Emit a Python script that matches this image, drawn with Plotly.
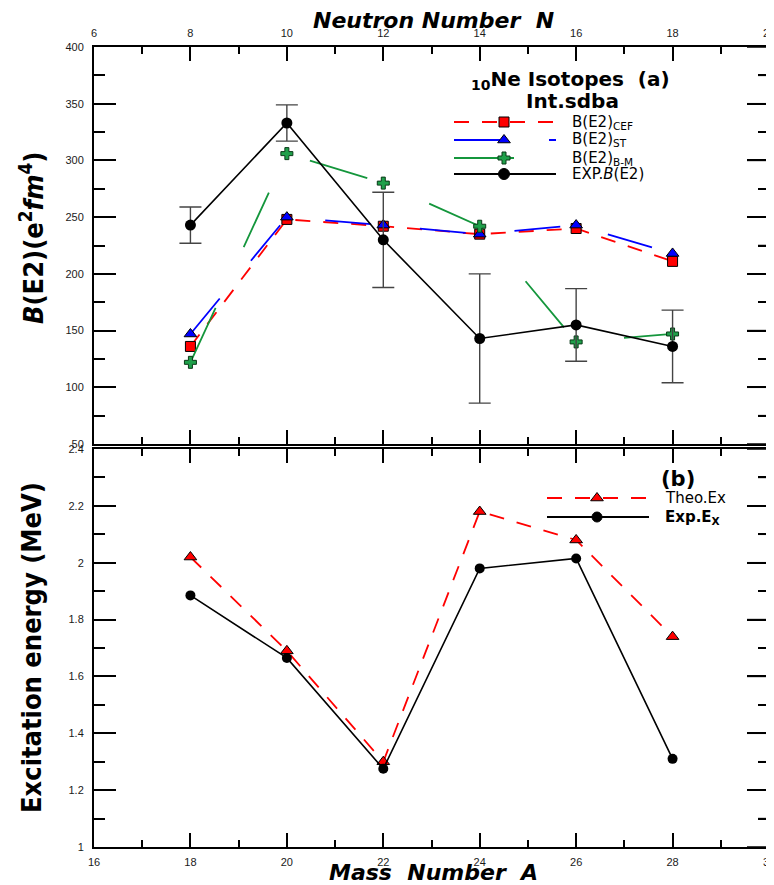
import plotly.graph_objects as go

# ---------------- data ----------------
mass_A = [18, 20, 22, 24, 26, 28]
neutron_N = [8, 10, 12, 14, 16, 18]

be2_cef = [136, 248, 242, 235, 240, 211]
be2_st = [147, 250, 243, 235, 243, 218]
be2_bm = [122, 306, 280, 242, 140, 147]
be2_exp = [243, 333, 230, 143, 155, 136]
be2_exp_err = [16, 16, 42, 57, 32, 32]

ex_theo = [2.02, 1.69, 1.30, 2.18, 2.08, 1.74]
ex_exp = [1.885, 1.665, 1.275, 1.98, 2.015, 1.31]

top_ticks_N = [6, 8, 10, 12, 14, 16, 18, 20]
bottom_ticks_A = [16, 18, 20, 22, 24, 26, 28, 30]
be2_tick_vals = [50, 75, 100, 125, 150, 175, 200, 225, 250, 275, 300, 325, 350, 375, 400]
ex_tick_vals = [1.0, 1.1, 1.2, 1.3, 1.4, 1.5, 1.6, 1.7, 1.8, 1.9, 2.0, 2.1, 2.2, 2.3, 2.4]

RED = "#ff0000"
BLUE = "#0000ff"
GREEN = "#14963c"
DASH_RED = "15px,13px"
DASH_BLUE = "46px,49px"
DASH_GREEN = "60px,67px"

# the page body adds an 8px offset; target plot area in page pixels is x 94..769, y 47..847
OFF = 8
W, H = 766, 877
L, R, T, B = 94 - OFF, 5, 47 - OFF, 38

PX0, PX1 = 94, 769     # plot area, page pixels
PY0, PY1 = 47, 847

def px2paper(x, y):
    return (x - PX0) / (PX1 - PX0), (PY1 - y) / (PY1 - PY0)

fig = go.Figure()

# ---------------- top panel (x2 / y) ----------------
fig.add_trace(go.Scatter(
    x=neutron_N, y=be2_cef, xaxis="x2", yaxis="y", mode="lines+markers",
    line=dict(color=RED, width=1.8, dash=DASH_RED),
    marker=dict(symbol="square", size=10, color=RED, line=dict(color="black", width=1)),
    showlegend=False))
fig.add_trace(go.Scatter(
    x=neutron_N, y=be2_st, xaxis="x2", yaxis="y", mode="lines+markers",
    line=dict(color=BLUE, width=1.8, dash=DASH_BLUE),
    marker=dict(symbol="triangle-up", size=11, color=BLUE, line=dict(color="black", width=1)),
    showlegend=False))
fig.add_trace(go.Scatter(
    x=neutron_N, y=be2_bm, xaxis="x2", yaxis="y", mode="lines+markers",
    line=dict(color=GREEN, width=1.8, dash=DASH_GREEN),
    marker=dict(symbol="cross", size=10, color="#1fa04a", line=dict(color="#0a3a18", width=1)),
    showlegend=False))
fig.add_trace(go.Scatter(
    x=neutron_N, y=be2_exp, xaxis="x2", yaxis="y", mode="lines+markers",
    line=dict(color="black", width=1.6),
    marker=dict(symbol="circle", size=11, color="black"),
    error_y=dict(type="data", array=be2_exp_err, color="#444", thickness=1.4, width=11),
    showlegend=False))

# ---------------- bottom panel (x / y2) ----------------
fig.add_trace(go.Scatter(
    x=mass_A, y=ex_theo, xaxis="x", yaxis="y2", mode="lines+markers",
    line=dict(color=RED, width=1.8, dash=DASH_RED),
    marker=dict(symbol="triangle-up", size=11, color=RED, line=dict(color="black", width=1)),
    showlegend=False))
fig.add_trace(go.Scatter(
    x=mass_A, y=ex_exp, xaxis="x", yaxis="y2", mode="lines+markers",
    line=dict(color="black", width=1.6),
    marker=dict(symbol="circle", size=10, color="black"),
    showlegend=False))

# ---------------- hand-made legends on a pixel overlay (x3 / y3) ----------------
def legend_sample(x0, x1, y, color, dash, symbol, mcolor, mline, size):
    fig.add_trace(go.Scatter(
        x=[x0, x1], y=[y, y], xaxis="x3", yaxis="y3", mode="lines",
        line=dict(color=color, width=1.8, dash=dash), showlegend=False, hoverinfo="skip"))
    fig.add_trace(go.Scatter(
        x=[(x0 + x1) / 2 - 1], y=[y], xaxis="x3", yaxis="y3", mode="markers",
        marker=dict(symbol=symbol, size=size, color=mcolor, line=dict(color=mline, width=1)),
        showlegend=False, hoverinfo="skip"))

legend_sample(454, 556, 122, RED, DASH_RED, "square", RED, "black", 10)
legend_sample(454, 556, 140, BLUE, DASH_BLUE, "triangle-up", BLUE, "black", 11)
legend_sample(454, 556, 158, GREEN, DASH_GREEN, "cross", "#1fa04a", "#0a3a18", 10)
legend_sample(454, 556, 174, "black", "solid", "circle", "black", "black", 11)
legend_sample(547, 649, 498, RED, DASH_RED, "triangle-up", RED, "black", 11)
legend_sample(547, 649, 517, "black", "solid", "circle", "black", "black", 10)

LEG_FONT = dict(family="DejaVu Sans", size=15, color="black")
ann = []
def text(x, y, s, font, xanchor="left", angle=0):
    px, py = px2paper(x, y)
    ann.append(dict(x=px, y=py, xref="paper", yref="paper", text=s, showarrow=False,
                    xanchor=xanchor, yanchor="middle", font=font, textangle=angle))

text(570, 122, "B(E2)<sub>CEF</sub>", LEG_FONT)
text(570, 140, "B(E2)<sub>ST</sub>", LEG_FONT)
text(570, 158, "B(E2)<sub>B-M</sub>", LEG_FONT)
text(570, 174, "EXP.<i>B</i>(E2)", LEG_FONT)
text(570, 80, "<b><sub>10</sub>Ne Isotopes\u00a0\u00a0(a)</b>",
     dict(family="DejaVu Sans", size=20, color="black"), xanchor="center")
text(572, 101, "<b>Int.sdba</b>", dict(family="DejaVu Sans", size=20, color="black"), xanchor="center")
text(663, 498, "Theo.Ex", LEG_FONT)
text(663, 517, "<b>Exp.E<sub>X</sub></b>", LEG_FONT)
text(678, 479, "<b>(b)</b>", dict(family="DejaVu Sans", size=21, color="black"), xanchor="center")

TITLE_FONT = dict(family="DejaVu Sans", size=22, color="black")
text(433, 20, "<b><i>Neutron Number\u00a0\u00a0N</i></b>", TITLE_FONT, xanchor="center")
text(433, 872, "<b><i>Mass\u00a0\u00a0Number\u00a0\u00a0A</i></b>", TITLE_FONT, xanchor="center")
YT_FONT = dict(family="DejaVu Sans Condensed, Liberation Sans", size=27, color="black")
text(31, 238, "<b><i>B</i>(E2)(e<sup>2</sup><i>fm</i><sup>4</sup>)</b>", YT_FONT, xanchor="center", angle=-90)
text(31, 648, "<b>Excitation energy (MeV)</b>", YT_FONT, xanchor="center", angle=-90)

# ---------------- right-hand frame ticks (drawn as shapes on the axes' own scales) ----------------
shapes = []
PLOT_W = PX1 - PX0
def right_ticks(vals, yref, major_every):
    for i, v in enumerate(vals):
        ln = 22 if i % major_every == 0 else 11
        shapes.append(dict(type="line", xref="paper", yref=yref, x0=1, x1=1 - ln / PLOT_W,
                           y0=v, y1=v, line=dict(color="black", width=1.5)))
    shapes.append(dict(type="line", xref="paper", yref=yref, x0=1, x1=1,
                       y0=vals[0], y1=vals[-1], line=dict(color="black", width=2)))
right_ticks(be2_tick_vals, "y", 2)
right_ticks(ex_tick_vals, "y2", 2)

TICK_FONT = dict(family="Liberation Sans", size=11, color="#1a1a1a")
common_x = dict(ticks="inside", ticklen=14, tickwidth=1.5, tickcolor="black",
                showline=True, linewidth=2, linecolor="black", mirror="ticks",
                showgrid=False, zeroline=False, tickfont=TICK_FONT, automargin=False,
                ticklabeloverflow="allow",
                minor=dict(ticks="inside", dtick=1, ticklen=7, tickwidth=1.5, tickcolor="black", showgrid=False))
common_y = dict(ticks="inside", ticklen=22, tickwidth=1.5, tickcolor="black",
                showline=True, linewidth=2, linecolor="black", mirror="ticks",
                showgrid=False, zeroline=False, tickfont=TICK_FONT, ticklabelstandoff=6,
                automargin=False, ticklabeloverflow="allow")

fig.update_layout(
    width=W, height=H,
    margin=dict(l=L, r=R, t=T, b=B),
    plot_bgcolor="rgba(0,0,0,0)", paper_bgcolor="white",
    xaxis=dict(anchor="y2", domain=[0, 1], range=[16, 30], tickvals=bottom_ticks_A,
               ticklabelstandoff=4, **common_x),
    xaxis2=dict(anchor="y", domain=[0, 1], range=[6, 20], side="top", tickvals=top_ticks_N,
                ticklabelstandoff=4, **common_x),
    yaxis=dict(anchor="x2", domain=[0.50375, 1], range=[50, 400], dtick=50, tick0=0,
               minor=dict(ticks="inside", dtick=25, ticklen=11, tickwidth=1.5, tickcolor="black", showgrid=False),
               **common_y),
    yaxis2=dict(anchor="x", domain=[0, 0.4975], range=[1, 2.4], dtick=0.2, tick0=1,
                minor=dict(ticks="inside", dtick=0.1, ticklen=11, tickwidth=1.5, tickcolor="black", showgrid=False),
                **common_y),
    xaxis3=dict(anchor="y3", domain=[0, 1], range=[PX0, PX1], visible=False, fixedrange=True, automargin=False),
    yaxis3=dict(anchor="x3", domain=[0, 1], range=[PY1, PY0], visible=False, fixedrange=True, automargin=False),
    annotations=ann,
    shapes=shapes,
)

fig.write_html("out.html")
